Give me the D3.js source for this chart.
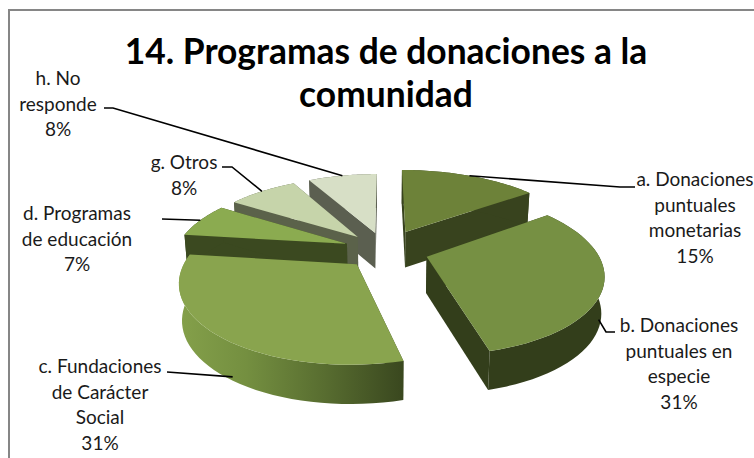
<!DOCTYPE html>
<html>
<head>
<meta charset="utf-8">
<script src="https://cdn.jsdelivr.net/npm/d3@7/dist/d3.min.js"></script>
<style>
  html, body { margin: 0; padding: 0; background: #fff; overflow: hidden; }
  text { font-family: Lato, "Open Sans", sans-serif; fill: #1a1a1a; }
</style>
</head>
<body>
<svg id="chart" width="754" height="458"></svg>
<script>
const titleLines = ['14. Programas de donaciones a la', 'comunidad']
const categories = ['a', 'b', 'c', 'd', 'g', 'h']
const labels = [
  ['a. Donaciones', 'puntuales', 'monetarias'],
  ['b. Donaciones', 'puntuales en', 'especie'],
  ['c. Fundaciones', 'de Carácter', 'Social'],
  ['d. Programas', 'de educación'],
  ['g. Otros'],
  ['h. No', 'responde'],
]
const values = [15, 31, 31, 7, 8, 8]

// slice styling, same order as categories
const topColors = ['#6d8239', '#769043', '#89a44e', '#8bab50', '#c6d4aa', '#d7dfc6']
const wallColors = ['#38431e', '#333e1b', 'url(#wallC)', '#3b4920', '#5b624a', '#5b5f50']
// the original's slices aren't quite the same size once projected
const radiusScale = [1.05, 0.975, 0.96, 0.985, 0.98, 0.98]
const explodeBy = [0.27, 0.25, 0.236, 0.236, 0.236, 0.236]

// label block layout: x centre, y of first line, leader elbow points,
// leader start as fraction along the slice rim and how far down its wall
const labelLayout = {
  a: { x: 695, y: 186, elbow: [[620, 187], [635, 187]], along: 0.5, down: 0 },
  b: { x: 679, y: 332, elbow: [[606, 332], [615, 332]], along: 0.55, down: 0.7 },
  c: { x: 100, y: 373, elbow: [[167, 372]], along: 0.45, down: 0.9 },
  d: { x: 77, y: 220, elbow: [[162, 219]], along: 0.5, down: 0 },
  g: { x: 184, y: 169, elbow: [[232, 167], [222, 167]], along: 0.5, down: 0 },
  h: { x: 58, y: 85, elbow: [[113, 108], [104, 108]], along: 0.5, down: 0 },
}
const linePitch = 25.7

// projection of the tilted pie: unit disc -> screen, with perspective
const cx = 385
const cy = 250
const fx = 174
const fy = 78
const persp = 0.2
const drawOrder = ['a', 'h', 'g', 'd', 'b', 'c']

const svg = d3.select('#chart')

const defs = svg.append('defs')
const grad = defs.append('linearGradient')
  .attr('id', 'wallC')
  .attr('gradientUnits', 'userSpaceOnUse')
  .attr('x1', 180).attr('x2', 402).attr('y1', 0).attr('y2', 0)
grad.selectAll('stop')
  .data([[0, '#84a04a'], [0.3, '#748f40'], [0.65, '#586d30'], [1, '#3a481f']])
  .enter().append('stop')
  .attr('offset', d => d[0])
  .attr('stop-color', d => d[1])

// frame, open on the right and bottom like the cropped original
svg.append('path')
  .attr('d', 'M9,458V10H754')
  .attr('fill', 'none')
  .attr('stroke', '#868686')
  .attr('stroke-width', 2)

const project = (X, Y, lower) => {
  const w = 1 + persp * Y
  let x = cx + fx * X / w
  let y = cy - fy * Y / w
  if (lower) {
    // side walls get taller towards the viewer and lean in a little
    x = cx + (x - cx) * 0.985
    y += 25 + 11 / w
  }
  return [x, y]
}

const pie = d3.pie().sort(null).value(d => d)
const arcs = pie(values)
const line = d3.line()

const slices = arcs.map((arc, i) => {
  const mid = (arc.startAngle + arc.endAngle) / 2
  const ox = explodeBy[i] * Math.sin(mid)
  const oy = explodeBy[i] * Math.cos(mid)
  const r = radiusScale[i]
  const rimPoint = (t, lower) => project(ox + r * Math.sin(t), oy + r * Math.cos(t), lower)
  const thetas = d3.range(0, 41).map(j => arc.startAngle + (arc.endAngle - arc.startAngle) * j / 40)
  return {
    key: categories[i],
    index: i,
    arc,
    tip: lower => project(ox, oy, lower),
    rimPoint,
    rimTop: thetas.map(t => rimPoint(t, false)),
    rimLow: thetas.map(t => rimPoint(t, true)),
  }
})

const pieLayer = svg.append('g')
drawOrder.forEach(key => {
  const s = slices.find(d => d.key === key)
  const g = pieLayer.append('g').attr('class', 'slice-' + key)
  const wall = wallColors[s.index]
  const tipTop = s.tip(false)
  const tipLow = s.tip(true)
  const first = s.rimTop[0]
  const last = s.rimTop[s.rimTop.length - 1]
  const firstLow = s.rimLow[0]
  const lastLow = s.rimLow[s.rimLow.length - 1]
  const solid = s.index === 2 ? '#3a481f' : wall
  // cut faces first, then the rim, then the top
  g.append('path').attr('d', line([tipTop, first, firstLow, tipLow]) + 'Z').attr('fill', solid)
  g.append('path').attr('d', line([tipTop, last, lastLow, tipLow]) + 'Z').attr('fill', solid)
  g.append('path').attr('d', line(s.rimTop.concat(s.rimLow.slice().reverse())) + 'Z').attr('fill', wall)
  g.append('path').attr('d', line([tipTop].concat(s.rimTop)) + 'Z').attr('fill', topColors[s.index])
})

// title
svg.append('g').selectAll('text')
  .data(titleLines)
  .enter().append('text')
  .attr('x', 386)
  .attr('y', (d, i) => 64 + i * 43)
  .attr('text-anchor', 'middle')
  .attr('font-size', 35.4)
  .attr('font-weight', 700)
  .style('fill', '#000')
  .text(d => d)

// leaders
const leaderLayer = svg.append('g')
slices.forEach(s => {
  const layout = labelLayout[s.key]
  const t = s.arc.startAngle + (s.arc.endAngle - s.arc.startAngle) * layout.along
  const top = s.rimPoint(t, false)
  const low = s.rimPoint(t, true)
  const start = [top[0] + (low[0] - top[0]) * layout.down, top[1] + (low[1] - top[1]) * layout.down]
  leaderLayer.append('path')
    .attr('d', line([start].concat(layout.elbow)))
    .attr('fill', 'none')
    .attr('stroke', '#000')
    .attr('stroke-width', 1.6)
})

// data labels
const labelLayer = svg.append('g')
slices.forEach(s => {
  const layout = labelLayout[s.key]
  const rows = labels[s.index].concat([values[s.index] + '%'])
  labelLayer.append('g').selectAll('text')
    .data(rows)
    .enter().append('text')
    .attr('x', layout.x)
    .attr('y', (d, i) => layout.y + i * linePitch)
    .attr('text-anchor', 'middle')
    .attr('font-size', 19)
    .text(d => d)
})
</script>
</body>
</html>
